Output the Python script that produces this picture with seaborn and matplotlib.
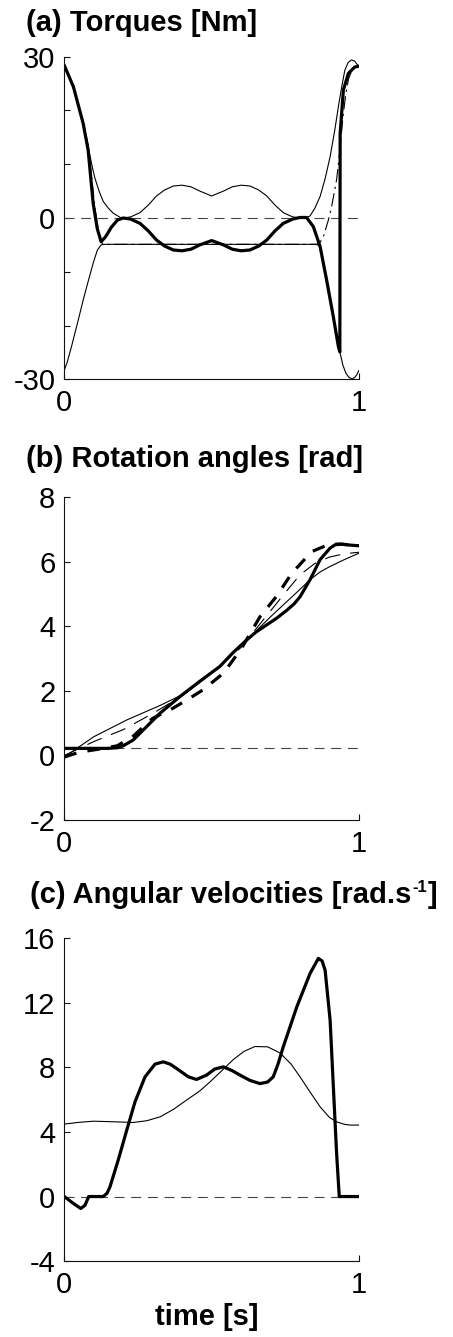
import matplotlib

matplotlib.use("Agg")
import matplotlib.pyplot as plt
import pandas as pd
import seaborn as sns

# ---- (a) torques [Nm] ----
torque_t_applied = [0, 0.031, 0.064, 0.081, 0.098, 0.112, 0.125, 0.14, 0.16, 0.18, 0.2, 0.225, 0.257,
                    0.285, 0.313, 0.34, 0.37, 0.4, 0.43, 0.46, 0.5, 0.54, 0.57, 0.6, 0.63, 0.66, 0.687,
                    0.715, 0.743, 0.775, 0.8, 0.822, 0.845, 0.868, 0.89, 0.913, 0.93, 0.935, 0.936,
                    0.947, 0.964, 0.986, 1.0]
torque_applied = [28.4, 24.4, 17.6, 12.6, 2.7, -2.0, -4.4, -3.5, -1.7, -0.4, 0.0, -0.2, -1.0,
                  -2.4, -4.1, -5.2, -5.95, -6.1, -5.8, -5.0, -4.2, -5.0, -5.8, -6.1, -5.95, -5.2, -4.1,
                  -2.4, -1.0, -0.2, 0.1, 0.1, -1.6, -5.3, -11.5, -18.4, -23.9, -24.9, 15.7,
                  23.8, 26.9, 28.1, 28.2]

torque_t_upper = [0, 0.031, 0.064, 0.085, 0.095, 0.104, 0.118, 0.132, 0.15, 0.166, 0.19, 0.2, 0.225,
                  0.257, 0.285, 0.313, 0.34, 0.37, 0.4, 0.43, 0.46, 0.5, 0.54, 0.57, 0.6, 0.63, 0.66,
                  0.687, 0.715, 0.743, 0.775, 0.8, 0.82, 0.834, 0.85, 0.868, 0.885, 0.902, 0.918,
                  0.93, 0.942, 0.952, 0.963, 0.974, 0.985, 0.993, 1.0]
torque_upper = [28.4, 24.6, 17.8, 12.2, 9.5, 7.4, 5.0, 3.1, 1.8, 0.9, 0.1, 0.0, 0.2,
                1.0, 2.4, 4.1, 5.2, 5.95, 6.1, 5.8, 5.0, 4.1, 5.0, 5.8, 6.1, 5.95, 5.2,
                4.1, 2.4, 1.0, 0.2, 0.0, 0.0, 0.4, 1.8, 4.0, 7.3, 11.4, 16.4,
                20.7, 24.6, 27.5, 28.9, 29.4, 29.2, 28.6, 28.3]

torque_t_lower = [0, 0.01, 0.025, 0.045, 0.064, 0.08, 0.098, 0.112, 0.125, 0.135, 0.856, 0.868, 0.89,
                  0.913, 0.93, 0.935, 0.945, 0.955, 0.965, 0.975, 0.985, 0.993, 1.0]
torque_lower = [-28.3, -26.8, -23.8, -19.5, -15.3, -12.0, -8.4, -6.0, -5.0, -4.9, -4.9, -5.3, -11.5,
                -18.4, -23.9, -24.9, -27.3, -28.8, -29.6, -29.9, -29.7, -29.1, -28.3]

torque_t_ref = [0, 0.031, 0.064, 0.08, 0.092, 0.105, 0.118, 0.13, 0.856, 0.868, 0.879, 0.896, 0.907,
                0.924, 0.935, 0.945, 0.955, 0.965, 0.98, 1.0]
torque_ref = [28.4, 24.5, 17.9, 13.8, 8.0, 1.5, -3.0, -4.9, -4.9, -4.5, -3.5, -0.4, 2.1,
              7.1, 12.6, 18.5, 23.0, 26.0, 27.9, 28.3]

# ---- (b) rotation angles [rad] ----
angle_t_thick = [0, 0.05, 0.1, 0.15, 0.18, 0.2, 0.234, 0.28, 0.325, 0.393, 0.46, 0.528, 0.574, 0.619,
                 0.65, 0.687, 0.72, 0.755, 0.78, 0.8, 0.834, 0.868, 0.902, 0.919, 0.94, 0.97, 1.0]
angle_thick = [0.22, 0.22, 0.22, 0.22, 0.24, 0.3, 0.48, 0.9, 1.31, 1.83, 2.3, 2.76, 3.2, 3.58,
               3.82, 4.05, 4.25, 4.5, 4.7, 4.92, 5.45, 6.07, 6.43, 6.53, 6.55, 6.52, 6.5]

angle_t_thick_dash = [0, 0.05, 0.12, 0.18, 0.234, 0.3, 0.37, 0.43, 0.47, 0.54, 0.6, 0.664, 0.72,
                      0.772, 0.84, 0.9, 0.94, 1.0]
angle_thick_dash = [-0.05, 0.1, 0.2, 0.3, 0.6, 1.15, 1.47, 1.8, 2.03, 2.55, 3.3, 4.3, 4.93,
                    5.65, 6.32, 6.55, 6.55, 6.5]

angle_t_thin = [0, 0.1, 0.212, 0.325, 0.415, 0.5, 0.6, 0.7, 0.8, 0.834, 0.87, 0.9, 0.95, 1.0]
angle_thin = [-0.05, 0.58, 1.1, 1.55, 1.95, 2.55, 3.4, 4.3, 5.15, 5.45, 5.7, 5.85, 6.07, 6.27]

angle_t_thin_dash = [0, 0.1, 0.2, 0.3, 0.4, 0.5, 0.6, 0.675, 0.75, 0.8, 0.85, 0.9, 0.95, 1.0]
angle_thin_dash = [0.0, 0.43, 0.8, 1.3, 1.85, 2.55, 3.35, 4.2, 5.05, 5.6, 5.95, 6.15, 6.25, 6.3]

# ---- (c) angular velocities [rad/s] ----
vel_t_thick = [0, 0.031, 0.056, 0.07, 0.083, 0.132, 0.145, 0.155, 0.183, 0.212, 0.24, 0.274, 0.308,
               0.336, 0.36, 0.381, 0.421, 0.449, 0.483, 0.51, 0.54, 0.57, 0.596, 0.63, 0.664, 0.69,
               0.709, 0.725, 0.743, 0.789, 0.834, 0.862, 0.875, 0.885, 0.902, 0.913, 0.924, 0.933,
               0.96, 1.0]
vel_thick = [0.0, -0.43, -0.74, -0.55, 0.0, 0.0, 0.2, 0.6, 2.26, 4.12, 5.87, 7.42, 8.21,
             8.35, 8.2, 7.94, 7.42, 7.26, 7.53, 7.9, 8.04, 7.8, 7.53, 7.2, 7.0, 7.1,
             7.42, 8.2, 9.28, 11.76, 13.83, 14.76, 14.6, 14.03, 10.93, 6.8, 2.67, 0.0,
             0.0, 0.0]

vel_t_thin = [0, 0.05, 0.098, 0.16, 0.234, 0.28, 0.325, 0.37, 0.415, 0.46, 0.494, 0.54, 0.574, 0.61,
              0.647, 0.69, 0.732, 0.77, 0.8, 0.835, 0.868, 0.9, 0.924, 0.95, 0.969, 1.0]
vel_thin = [4.49, 4.6, 4.67, 4.64, 4.59, 4.7, 4.94, 5.4, 5.98, 6.55, 7.1, 7.9, 8.5, 9.0,
            9.3, 9.28, 8.9, 8.2, 7.42, 6.45, 5.56, 4.9, 4.63, 4.48, 4.43, 4.43]

# horizontal reference lines
ref_t = [0, 1]
torque_zero = [0, 0]
angle_start = [0.22, 0.22]
vel_zero = [0, 0]

sns.set_theme(style="ticks")
plt.rcParams["font.family"] = ["Liberation Sans", "DejaVu Sans"]
plt.rcParams["axes.unicode_minus"] = False
plt.rcParams["text.color"] = "black"

THICK = 2.3
THIN = 0.8
REF_STYLE = dict(color="#444444", linewidth=0.8, linestyle=(0, (9, 6)))


def draw(ax, t, values, **kws):
    frame = pd.DataFrame({"t": t, "v": values})
    sns.lineplot(data=frame, x="t", y="v", ax=ax, sort=False, estimator=None, **kws)


def style_axes(ax, ylim, yticks, ylabels):
    ax.set_xlim(0, 1)
    ax.set_ylim(*ylim)
    ax.set_xticks([0, 1])
    ax.set_xticklabels(["0", "1"])
    ax.set_yticks(yticks)
    ax.set_yticklabels(ylabels)
    ax.set_xlabel("")
    ax.set_ylabel("")
    sns.despine(ax=ax)
    for side in ["left", "bottom"]:
        ax.spines[side].set_color("#111111")
        ax.spines[side].set_linewidth(0.8)
    ax.tick_params(axis="both", direction="in", length=4, width=0.8, colors="#111111",
                   labelcolor="black", labelsize=21)
    ax.tick_params(axis="y", pad=6.5)
    ax.tick_params(axis="x", pad=7)


fig = plt.figure(figsize=(4.53, 13.37), dpi=100)
left, width, height = 0.1419, 0.6506, 0.2413
ax_a = fig.add_axes([left, 0.7163, width, height])
ax_b = fig.add_axes([left, 0.3867, width, height])
ax_c = fig.add_axes([left, 0.0568, width, height])

# (a)
draw(ax_a, ref_t, torque_zero, **REF_STYLE)
draw(ax_a, torque_t_upper, torque_upper, color="black", linewidth=THIN)
draw(ax_a, torque_t_lower, torque_lower, color="black", linewidth=THIN)
draw(ax_a, torque_t_ref, torque_ref, color="black", linewidth=THIN,
     linestyle=(0, (12, 4, 2, 4)))
draw(ax_a, torque_t_applied, torque_applied, color="black", linewidth=THICK)
style_axes(ax_a, (-30, 30), [-30, -20, -10, 0, 10, 20, 30], ["-30", "", "", "0", "", "", "30"])

# (b)
draw(ax_b, ref_t, angle_start, **REF_STYLE)
draw(ax_b, angle_t_thin, angle_thin, color="black", linewidth=THIN)
draw(ax_b, angle_t_thin_dash, angle_thin_dash, color="black", linewidth=THIN,
     linestyle=(0, (14, 9)))
draw(ax_b, angle_t_thick_dash, angle_thick_dash, color="black", linewidth=THICK,
     linestyle=(0, (4, 3.5)))
draw(ax_b, angle_t_thick, angle_thick, color="black", linewidth=THICK)
style_axes(ax_b, (-2, 8), [-2, 0, 2, 4, 6, 8], ["-2", "0", "2", "4", "6", "8"])

# (c)
draw(ax_c, ref_t, vel_zero, **REF_STYLE)
draw(ax_c, vel_t_thin, vel_thin, color="black", linewidth=THIN)
draw(ax_c, vel_t_thick, vel_thick, color="black", linewidth=THICK)
style_axes(ax_c, (-4, 16), [-4, 0, 4, 8, 12, 16], ["-4", "0", "4", "8", "12", "16"])

title_kw = dict(fontsize=21, fontweight="bold", ha="left", va="baseline", color="black")
fig.text(26 / 453, 0.977, "(a) Torques [Nm]", **title_kw)
fig.text(26 / 453, 0.651, "(b) Rotation angles [rad]", **title_kw)
main_c = fig.text(30 / 453, 0.3244, "(c) Angular velocities [rad.s", **title_kw)
fig.text(207 / 453, 0.009, "time [s]", fontsize=21, fontweight="bold", ha="center",
         va="baseline", color="black")

# superscript "-1" and closing bracket placed after the measured main text
renderer = fig.canvas.get_renderer()
fig_w = fig.bbox.width
x_end = main_c.get_window_extent(renderer).x1 / fig_w
sup = fig.text(x_end + 1 / 453, 0.3244 + 11 / 1337, "-1", fontsize=12, fontweight="bold",
               ha="left", va="baseline", color="black")
x_sup = sup.get_window_extent(renderer).x1 / fig_w
fig.text(x_sup + 1 / 453, 0.3244, "]", **title_kw)

fig.savefig("out.png", dpi=100)
plt.close(fig)
